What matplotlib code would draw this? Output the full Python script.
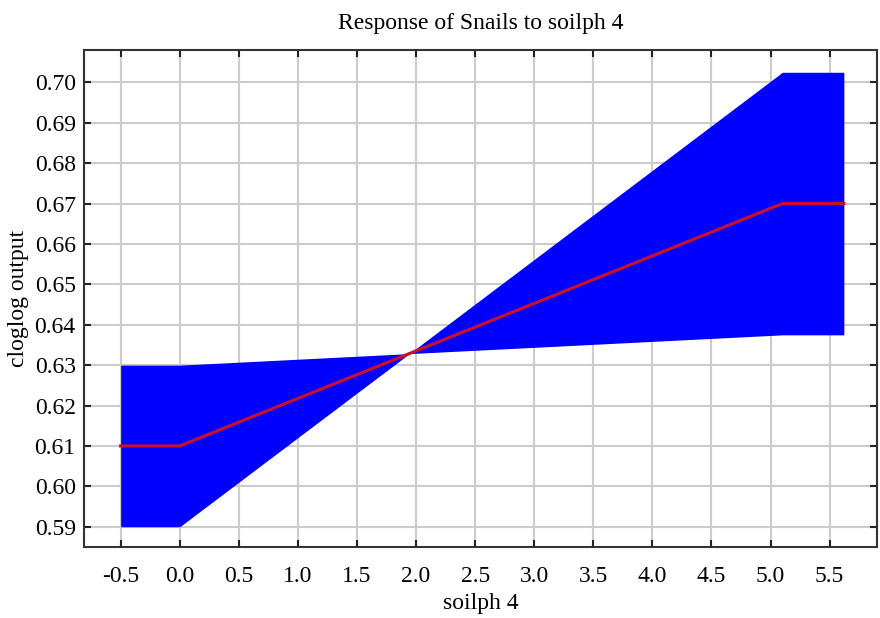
import matplotlib
matplotlib.use("Agg")
import matplotlib.pyplot as plt

plt.rcParams['font.family'] = ['Liberation Serif', 'DejaVu Serif']

x = [-0.5, 0.0, 5.1, 5.62]
bound_a = [0.59, 0.59, 0.7025, 0.7025]
bound_b = [0.63, 0.63, 0.6375, 0.6375]
response = [0.61, 0.61, 0.67, 0.67]

xticks = [-0.5, 0.0, 0.5, 1.0, 1.5, 2.0, 2.5, 3.0, 3.5, 4.0, 4.5, 5.0, 5.5]
yticks = [0.59, 0.60, 0.61, 0.62, 0.63, 0.64, 0.65, 0.66, 0.67, 0.68, 0.69, 0.70]

fig = plt.figure(figsize=(8.8, 6.18), dpi=100)
ax = fig.add_axes([0.0955, 0.115, 0.901, 0.804])

ax.fill_between(x, bound_a, bound_b, color='#0000ff', linewidth=0, zorder=2)
ax.plot(x, response, color='#c8102e', linewidth=2.3, zorder=3)

ax.set_xlim(-0.81, 5.90)
ax.set_ylim(0.585, 0.708)
ax.set_xticks(xticks)
ax.set_xticklabels([f"{v:.1f}" for v in xticks])
ax.set_yticks(yticks)
ax.set_yticklabels([f"{v:.2f}" for v in yticks])
ax.grid(True, color='#cccccc', linewidth=1.5, zorder=1)
ax.set_axisbelow(True)
ax.tick_params(direction='in', length=5, width=1.5, top=True, right=True,
               labelsize=17, colors='#222222', labelcolor='black')
ax.tick_params(axis='x', pad=14)
ax.tick_params(axis='y', pad=6)
for s in ax.spines.values():
    s.set_linewidth(1.5)
    s.set_color('#333333')

ax.set_title("Response of Snails to soilph 4", fontsize=17, pad=15)
ax.set_xlabel("soilph 4", fontsize=17, labelpad=4)
ax.set_ylabel("cloglog output", fontsize=17, labelpad=4)

fig.savefig("out.png", dpi=100)
